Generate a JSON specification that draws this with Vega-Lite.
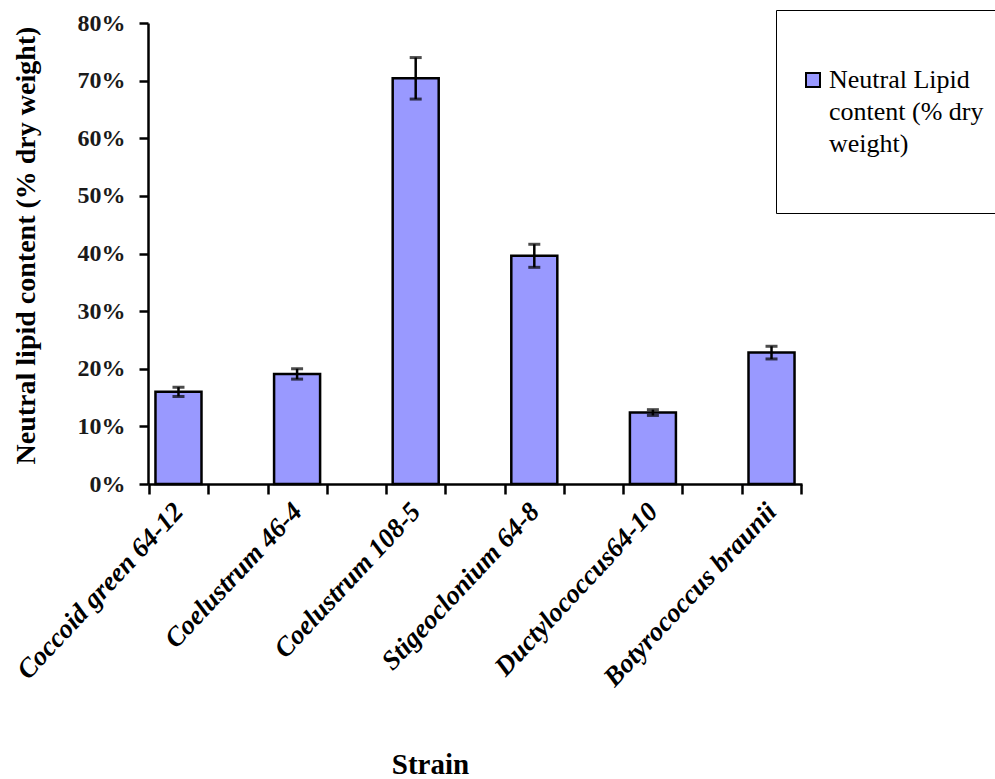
{
  "$schema": "https://vega.github.io/schema/vega-lite/v6.json",
  "autosize": "none",
  "padding": {"left": 148, "top": 23, "right": 193, "bottom": 295},
  "width": 654,
  "height": 461,
  "background": "white",
  "data": {
    "values": [
      {"strain": "Coccoid green 64-12", "value": 0.160, "err": 0.008},
      {"strain": "Coelustrum 46-4", "value": 0.191, "err": 0.009},
      {"strain": "Coelustrum 108-5", "value": 0.704, "err": 0.036},
      {"strain": "Stigeoclonium 64-8", "value": 0.396, "err": 0.020},
      {"strain": "Ductylococcus64-10", "value": 0.124, "err": 0.005},
      {"strain": "Botyrococcus braunii", "value": 0.228, "err": 0.011}
    ]
  },
  "encoding": {
    "y": {
      "field": "value",
      "type": "quantitative",
      "scale": {"domain": [0, 0.8], "nice": false, "zero": true},
      "axis": {
        "title": "Neutral lipid  content (% dry weight)",
        "format": ".0%",
        "values": [0, 0.1, 0.2, 0.3, 0.4, 0.5, 0.6, 0.7, 0.8],
        "grid": false,
        "domainColor": "black",
        "domainWidth": 2.5,
        "tickColor": "black",
        "tickWidth": 2.5,
        "tickSize": 9,
        "labelFont": "Liberation Serif",
        "labelFontWeight": "bold",
        "labelFontSize": 24,
        "labelColor": "#1a1a1a",
        "labelPadding": 14,
        "titleFont": "Liberation Serif",
        "titleFontWeight": "bold",
        "titleFontSize": 28,
        "titleColor": "black",
        "titleX": -108,
        "titleY": 222,
        "titleAngle": -90,
        "titleBaseline": "bottom"
      }
    }
  },
  "layer": [
    {
      "mark": {"type": "bar", "stroke": "black", "strokeWidth": 2.5},
      "encoding": {
        "x": {
          "field": "strain",
          "type": "nominal",
          "sort": null,
          "scale": {"paddingInner": 0.612, "paddingOuter": 0.063},
          "axis": {
            "orient": "bottom",
            "title": "Strain",
            "domainColor": "black",
            "domainWidth": 2.5,
            "tickColor": "black",
            "tickWidth": 2.5,
            "tickSize": 10,
            "tickOffset": -29.5,
            "labelOffset": 29.5,
            "labelAngle": -47,
            "labelAlign": "right",
            "labelBaseline": "middle",
            "labelPadding": 13,
            "labelFont": "Liberation Serif",
            "labelFontStyle": "italic",
            "labelFontWeight": "bold",
            "labelFontSize": 27,
            "labelColor": "black",
            "labelLimit": 400,
            "titleFont": "Liberation Serif",
            "titleFontWeight": "bold",
            "titleFontSize": 29,
            "titleColor": "black",
            "titleX": 282,
            "titleY": 289,
            "titleBaseline": "alphabetic"
          }
        },
        "color": {
          "datum": "Neutral Lipid content (% dry weight)",
          "type": "nominal",
          "scale": {"range": ["#9999FF"]},
          "legend": {
            "title": "\u00a0",
            "titleFontSize": 17,
            "titlePadding": 16,
            "orient": "none",
            "legendX": 628,
            "legendY": -13,
            "strokeColor": "black",
            "fillColor": "white",
            "padding": 24,
            "symbolType": "square",
            "symbolSize": 196,
            "symbolStrokeColor": "black",
            "symbolStrokeWidth": 2,
            "symbolFillColor": "#9999FF",
            "labelFont": "Liberation Serif",
            "labelFontSize": 26,
            "labelColor": "black",
            "labelLimit": 400,
            "labelOffset": 3,
            "labelExpr": "['Neutral Lipid', 'content (% dry', 'weight)', '']"
          }
        }
      }
    },
    {
      "mark": {"type": "errorbar", "ticks": {"size": 12, "thickness": 3, "color": "black"}, "rule": {"strokeWidth": 2.5, "color": "black"}},
      "encoding": {
        "x": {
          "field": "strain",
          "type": "nominal",
          "sort": null,
          "axis": {
            "orient": "bottom",
            "title": null,
            "labels": false,
            "domain": false,
            "tickColor": "black",
            "tickWidth": 2.5,
            "tickSize": 10,
            "tickOffset": 29.5
          }
        },
        "yError": {"field": "err"}
      }
    }
  ],
  "resolve": {"axis": {"x": "independent"}},
  "config": {
    "view": {"stroke": null},
    "font": "Liberation Serif",
    "style": {"guide-label": {"lineHeight": 32}}
  }
}
